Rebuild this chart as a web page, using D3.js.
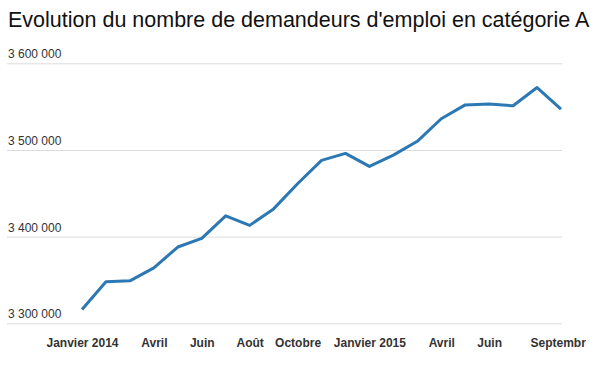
<!DOCTYPE html>
<html>
<head>
<meta charset="utf-8">
<script src="https://cdn.jsdelivr.net/npm/d3@7"></script>
<style>
  body { margin: 0; background: #fff; }
  svg { display: block; font-family: "Helvetica Neue", Helvetica, "Liberation Sans", Arial, sans-serif; }
</style>
</head>
<body>
<div id="chart"></div>
<script>
// data: demandeurs d'emploi cat. A, janvier 2014 -> septembre 2015
var months = ["2014-01", "2014-02", "2014-03", "2014-04", "2014-05", "2014-06", "2014-07",
  "2014-08", "2014-09", "2014-10", "2014-11", "2014-12", "2015-01", "2015-02", "2015-03",
  "2015-04", "2015-05", "2015-06", "2015-07", "2015-08", "2015-09"];
var values = [3316000, 3348000, 3349000, 3364000, 3388000, 3398000, 3424000,
  3413000, 3432000, 3461000, 3488000, 3496000, 3481000, 3494000, 3510000,
  3536000, 3552000, 3553000, 3551000, 3572000, 3547000];
var tickMonths = ["2014-01", "2014-04", "2014-06", "2014-08", "2014-10", "2015-01", "2015-04", "2015-06", "2015-09"];
var tickLabels = ["Janvier 2014", "Avril", "Juin", "Août", "Octobre", "Janvier 2015", "Avril", "Juin", "Septembre"];
var yTicks = [3300000, 3400000, 3500000, 3600000];

var svgWidth = 597;
var svgHeight = 379;
var plotRight = 586; // axis labels are cut here, like the original

var svg = d3.select("#chart")
  .append("svg")
  .attr("width", svgWidth)
  .attr("height", svgHeight);

svg.append("clipPath")
  .attr("id", "axisClip")
  .append("rect")
  .attr("x", 0)
  .attr("y", 0)
  .attr("width", plotRight)
  .attr("height", svgHeight);

// title
svg.append("text")
  .attr("x", 8)
  .attr("y", 27)
  .attr("font-size", "21.5px")
  .attr("fill", "#111")
  .text("Evolution du nombre de demandeurs d'emploi en catégorie A");

// scales
var x = d3.scalePoint()
  .domain(months)
  .range([82, 561]);

var y = d3.scaleLinear()
  .domain([3300000, 3600000])
  .range([323.3, 63.3]);

var fr = d3.formatLocale({ decimal: ",", thousands: " ", grouping: [3], currency: ["", " €"] });
var fmt = fr.format(",d");

// y axis + grid
var yAxis = svg.append("g")
  .attr("transform", "translate(7,0)")
  .call(d3.axisRight(y).tickValues(yTicks).tickSize(555).tickFormat(fmt));
yAxis.select(".domain").remove();
yAxis.selectAll(".tick line")
  .attr("stroke", "#dcdcdc");
yAxis.selectAll(".tick text")
  .attr("x", 1)
  .attr("y", -5.5)
  .attr("dy", 0)
  .attr("text-anchor", "start")
  .attr("font-size", "12px")
  .attr("fill", "#333");

// x axis
var xWrap = svg.append("g")
  .attr("clip-path", "url(#axisClip)");
var xAxis = xWrap.append("g")
  .attr("transform", "translate(0,347)")
  .call(d3.axisBottom(x).tickValues(tickMonths).tickSize(0)
    .tickFormat(function(d, i) { return tickLabels[i]; }));
xAxis.select(".domain").remove();
xAxis.selectAll(".tick text")
  .attr("y", 0)
  .attr("dy", 0)
  .attr("font-size", "12px")
  .attr("font-weight", "bold")
  .attr("fill", "#333");

// line
var data = months.map(function(m, i) { return { month: m, value: values[i] }; });
var line = d3.line()
  .x(function(d) { return x(d.month); })
  .y(function(d) { return y(d.value); });

svg.append("path")
  .datum(data)
  .attr("d", line)
  .attr("fill", "none")
  .attr("stroke", "#2b78b4")
  .attr("stroke-width", 3)
  .attr("stroke-linejoin", "round");
</script>
</body>
</html>
